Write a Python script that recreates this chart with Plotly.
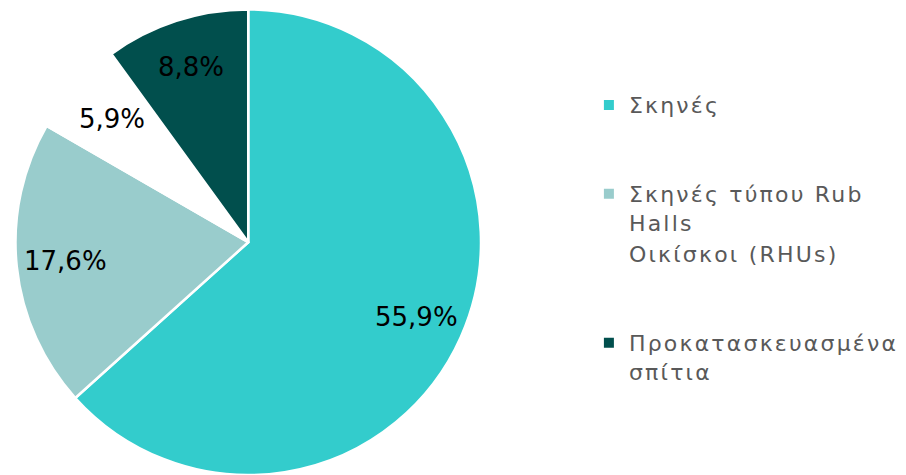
import math
import plotly.graph_objects as go

categories = ["Σκηνές<br> <br> ", "Σκηνές τύπου Rub<br>Halls", "Οικίσκοι (RHUs)<br> <br> ", "Προκατασκευασμένα<br>σπίτια"]
counts = [19, 6, 2, 3]
pct_labels = ["55,9%", "17,6%", "5,9%", "8,8%"]
colors = ["#33CCCC", "#99CCCC", "#FFFFFF", "#014F4D"]

W, H = 906, 475
dom_x = [0.017, 0.531]
dom_y = [0.0, 0.98]

fig = go.Figure(go.Pie(
    labels=categories,
    values=counts,
    text=pct_labels,
    textinfo="none",
    marker=dict(colors=colors, line=dict(color="#FFFFFF", width=2.5)),
    sort=False,
    direction="clockwise",
    rotation=0,
    domain=dict(x=dom_x, y=dom_y),
    hoverinfo="text+value",
))

# place percentage labels at each slice's mid-angle, derived from the data
total = sum(counts)
cx = (dom_x[0] + dom_x[1]) / 2
cy = (dom_y[0] + dom_y[1]) / 2
r_px = min((dom_x[1] - dom_x[0]) * W, (dom_y[1] - dom_y[0]) * H) / 2
label_frac = 0.79
cum = 0
for v, t in zip(counts, pct_labels):
    mid = (cum + v / 2) / total * 2 * math.pi
    cum += v
    fig.add_annotation(
        x=cx + label_frac * r_px * math.sin(mid) / W,
        y=cy + label_frac * r_px * math.cos(mid) / H,
        xref="paper", yref="paper",
        xanchor="center", yanchor="middle",
        text=t, showarrow=False,
        font=dict(family="DejaVu Sans", size=26, color="#000000"),
    )

fig.update_layout(
    width=W, height=H,
    margin=dict(l=0, r=0, t=0, b=0),
    paper_bgcolor="#FFFFFF",
    plot_bgcolor="#FFFFFF",
    showlegend=True,
    legend=dict(
        x=0.650, y=0.823, xanchor="left", yanchor="top",
        font=dict(family="DejaVu Sans", size=22, color="#595959"),
        valign="top",
        itemsizing="constant",
        bgcolor="rgba(0,0,0,0)",
    ),
)

post = """
document.body.style.margin = '0';
document.querySelectorAll('.legendtext').forEach(function(e){ e.style.letterSpacing = '2.2px'; });
document.querySelectorAll('.legend .scrollbox').forEach(function(e){ e.removeAttribute('clip-path'); });
document.querySelectorAll('.legend').forEach(function(e){ e.removeAttribute('clip-path'); });
"""
fig.write_html("out.html", post_script=post, config={"displayModeBar": False})
